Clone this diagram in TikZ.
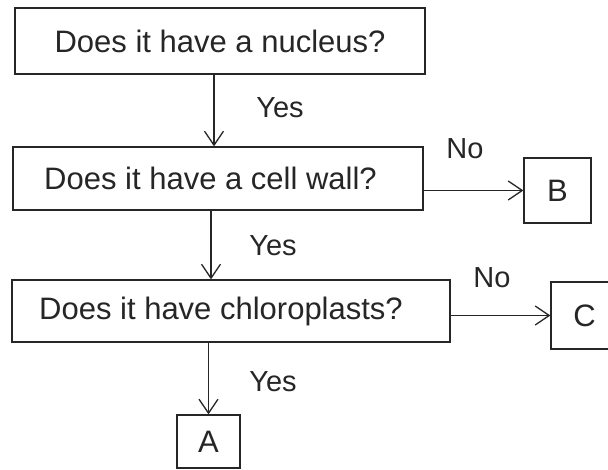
\documentclass[tikz,border=0pt]{standalone}
\usepackage{fontspec}
\setmainfont{Liberation Sans}
\usetikzlibrary{arrows.meta}
\begin{document}
\begin{tikzpicture}[x=1pt,y=-1pt,
  ink/.style={draw=black!85, line width=1.3pt},
  qbox/.style={ink, rectangle, inner sep=0pt, text=black!85,
    font=\fontsize{31}{31}\selectfont},
  lbl/.style={text=black!85, inner sep=0pt, font=\fontsize{29}{29}\selectfont},
  arr/.style={ink, -{Straight Barb[length=14pt,width=19pt,line width=1.3pt]}}]
\useasboundingbox (0,0) rectangle (608,470);
\clip (0,0) rectangle (608,470);
\fill[white] (0,0) rectangle (608,470);
% boxes
\node[qbox, minimum width=410pt, minimum height=66pt] (b1) at (220,41) {Does it have a nucleus?};
\node[qbox, minimum width=410pt, minimum height=63pt] (b2) at (218,178.5) {Does it have a cell wall?\hspace*{15pt}};
\node[qbox, minimum width=438pt, minimum height=62pt] (b3) at (231,311) {Does it have chloroplasts?\hspace*{20pt}};
\node[qbox, minimum width=67pt, minimum height=65pt] (B) at (557.5,190.5) {B};
\node[qbox, minimum width=67pt, minimum height=67pt] (C) at (584.5,315.5) {C};
\node[qbox, minimum width=63pt, minimum height=53pt] (A) at (208.5,441.5) {A};
% connectors
\draw[arr] (b1.south -| 214,0) -- (b2.north -| 214,0);
\draw[arr] (b2.south -| 211,0) -- (b3.north -| 211,0);
\draw[arr] (b3.south -| A.north) -- (A.north);
\draw[arr] (b2.east |- B.west) -- (B.west);
\draw[arr] (b3.east |- C.west) -- (C.west);
% labels
\node[lbl] (y1) at (280,108) {Yes};
\node[lbl] (y2) at (273,246) {Yes};
\node[lbl] (y3) at (273,382) {Yes};
\node[lbl] (n1) at (465,149) {No};
\node[lbl] (n2) at (492,278) {No};
\end{tikzpicture}
\end{document}
